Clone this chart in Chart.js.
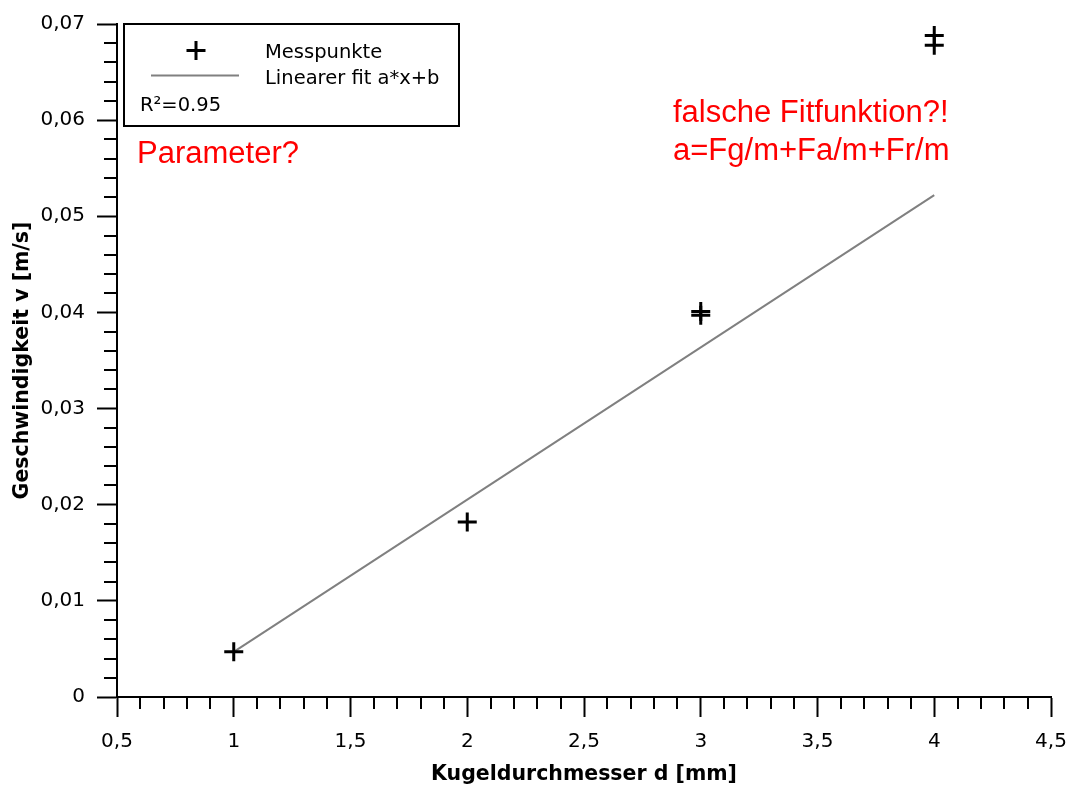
<!DOCTYPE html>
<html>
<head>
<meta charset="utf-8">
<script src="https://cdn.jsdelivr.net/npm/chart.js@4/dist/chart.umd.min.js"></script>
<style>
  html, body { margin: 0; padding: 0; background: #fff; }
  canvas { display: block; }
</style>
</head>
<body>
<canvas id="chart" width="1068" height="787"></canvas>
<script>
// Messwerte (Kugeldurchmesser in mm, Geschwindigkeit in m/s)
const messX = [1, 2, 3, 3, 4, 4];
const messY = [0.0047, 0.0182, 0.0401, 0.0397, 0.0688, 0.0678];

// Linearer Fit, Endpunkte wie im Bild
const fitX = [1, 4];
const fitY = [0.0047, 0.0522];

// Achsen
const xTicks = [0.5, 1, 1.5, 2, 2.5, 3, 3.5, 4, 4.5];
const xTickLabels = ['0,5', '1', '1,5', '2', '2,5', '3', '3,5', '4', '4,5'];
const yTicks = [0, 0.01, 0.02, 0.03, 0.04, 0.05, 0.06, 0.07];
const yTickLabels = ['0', '0,01', '0,02', '0,03', '0,04', '0,05', '0,06', '0,07'];

const legendLabels = ['Messpunkte', 'Linearer fit a*x+b'];
const r2Text = 'R²=0.95';
const notes = ['Parameter?', 'falsche Fitfunktion?!', 'a=Fg/m+Fa/m+Fr/m'];

const tickFont = { family: 'DejaVu Sans', size: 20 };
const titleFont = { family: 'DejaVu Sans', size: 20.5, weight: 'bold' };

// minor ticks (4 between majors) drawn with the scales' own pixel mapping
const minorTicks = {
    id: 'minorTicks',
    afterDraw(chart) {
        const ctx = chart.ctx;
        const xs = chart.scales.x, ys = chart.scales.y;
        const area = chart.chartArea;
        ctx.save();
        ctx.strokeStyle = '#000';
        ctx.lineWidth = 2;
        ctx.beginPath();
        for (let i = 0; i < xTicks.length - 1; i++) {
            const step = (xTicks[i + 1] - xTicks[i]) / 5;
            for (let k = 1; k < 5; k++) {
                const px = Math.round(xs.getPixelForValue(xTicks[i] + k * step));
                ctx.moveTo(px, area.bottom);
                ctx.lineTo(px, area.bottom + 12);
            }
        }
        for (let i = 0; i < yTicks.length - 1; i++) {
            const step = (yTicks[i + 1] - yTicks[i]) / 5;
            for (let k = 1; k < 5; k++) {
                const py = Math.round(ys.getPixelForValue(yTicks[i] + k * step));
                ctx.moveTo(area.left, py);
                ctx.lineTo(area.left - 13, py);
            }
        }
        ctx.stroke();
        ctx.restore();
    }
};

// Legende und rote Anmerkungen
const overlay = {
    id: 'overlay',
    afterDraw(chart) {
        const ctx = chart.ctx;
        ctx.save();

        // legend box
        ctx.fillStyle = '#fff';
        ctx.fillRect(124, 24, 335, 102);
        ctx.strokeStyle = '#000';
        ctx.lineWidth = 2;
        ctx.strokeRect(124, 24, 335, 102);

        // cross symbol
        ctx.lineWidth = 3;
        ctx.beginPath();
        ctx.moveTo(186.5, 50.5); ctx.lineTo(205.5, 50.5);
        ctx.moveTo(196, 41); ctx.lineTo(196, 60);
        ctx.stroke();

        // fit line symbol
        ctx.strokeStyle = '#808080';
        ctx.lineWidth = 2;
        ctx.beginPath();
        ctx.moveTo(151, 75.5); ctx.lineTo(239, 75.5);
        ctx.stroke();

        ctx.fillStyle = '#000';
        ctx.font = '19.5px "DejaVu Sans"';
        ctx.textBaseline = 'alphabetic';
        ctx.textAlign = 'left';
        ctx.fillText(legendLabels[0], 265, 58);
        ctx.fillText(legendLabels[1], 265, 84);
        ctx.fillText(r2Text, 140, 111);

        ctx.fillStyle = '#ff0000';
        ctx.font = '31px "Liberation Sans", Arial, sans-serif';
        ctx.fillText(notes[0], 137, 163);
        ctx.fillText(notes[1], 673, 122);
        ctx.fillText(notes[2], 673, 160);

        ctx.restore();
    }
};

new Chart(document.getElementById('chart'), {
    type: 'scatter',
    data: {
        datasets: [
            {
                label: legendLabels[0],
                data: messX.map((x, i) => ({ x: x, y: messY[i] })),
                pointStyle: 'cross',
                pointRadius: 9.5,
                pointBorderWidth: 3,
                borderColor: '#000',
                backgroundColor: '#000',
                showLine: false,
                order: 1
            },
            {
                label: legendLabels[1],
                data: fitX.map((x, i) => ({ x: x, y: fitY[i] })),
                showLine: true,
                borderColor: '#808080',
                borderWidth: 2,
                pointRadius: 0,
                order: 2
            }
        ]
    },
    options: {
        responsive: false,
        animation: false,
        layout: { padding: { top: 23, right: 17, left: 0, bottom: 0 } },
        plugins: {
            legend: { display: false },
            tooltip: { enabled: false }
        },
        scales: {
            x: {
                type: 'linear',
                min: 0.5,
                max: 4.5,
                afterBuildTicks: s => { s.ticks = xTicks.map(v => ({ value: v })); },
                afterFit: s => {
                    s.height = 90;
                    s.paddingLeft = 0;
                    s.paddingRight = 0;
                },
                ticks: {
                    font: tickFont,
                    color: '#000',
                    padding: 13,
                    maxRotation: 0,
                    callback: (v, i) => xTickLabels[i]
                },
                grid: {
                    drawOnChartArea: false,
                    drawTicks: true,
                    tickLength: 20,
                    tickColor: '#000',
                    tickWidth: 2
                },
                border: { color: '#000', width: 2 },
                title: {
                    display: true,
                    text: 'Kugeldurchmesser d [mm]',
                    font: titleFont,
                    color: '#000',
                    padding: { top: 0, bottom: 0 }
                }
            },
            y: {
                type: 'linear',
                min: 0,
                max: 0.07,
                afterBuildTicks: s => { s.ticks = yTicks.map(v => ({ value: v })); },
                afterFit: s => { s.width = 117; },
                ticks: {
                    font: tickFont,
                    color: '#000',
                    padding: 12,
                    callback: (v, i) => yTickLabels[i]
                },
                grid: {
                    drawOnChartArea: false,
                    drawTicks: true,
                    tickLength: 20,
                    tickColor: '#000',
                    tickWidth: 2
                },
                border: { color: '#000', width: 2 },
                title: {
                    display: true,
                    text: 'Geschwindigkeit v [m/s]',
                    font: titleFont,
                    color: '#000',
                    padding: { top: 10, bottom: 0 }
                }
            }
        }
    },
    plugins: [minorTicks, overlay]
});
</script>
</body>
</html>
